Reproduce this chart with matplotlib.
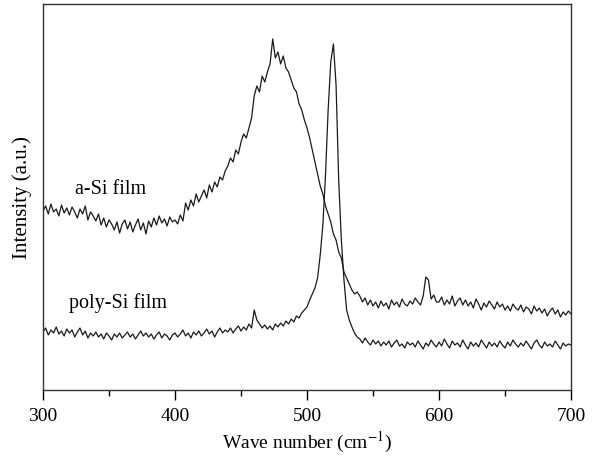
import numpy as np
import matplotlib
matplotlib.use("Agg")
import matplotlib.pyplot as plt
from matplotlib.ticker import MultipleLocator

# ── Données (pas de 2 cm^-1, intensité en u.a.) ──
wave = np.arange(300, 702, 2)

a_si = [
    179, 184, 176, 186, 178, 181, 174, 185, 177, 182,
    175, 183, 178, 172, 181, 176, 184, 170, 178, 174,
    169, 176, 165, 172, 163, 170, 166, 160, 168, 157,
    166, 170, 161, 168, 158, 165, 171, 160, 167, 156,
    169, 163, 172, 165, 174, 167, 171, 164, 173, 168,
    170, 166, 175, 169, 187, 180, 190, 184, 196, 188,
    194, 200, 192, 205, 198, 208, 203, 213, 210, 219,
    224, 232, 228, 240, 236, 248, 256, 252, 262, 272,
    294, 304, 298, 314, 308, 318, 326, 351, 332, 338,
    326, 334, 322, 318, 310, 302, 298, 286, 280, 270,
    262, 252, 240, 228, 216, 204, 196, 184, 176, 168,
    156, 150, 138, 132, 118, 112, 106, 100, 96, 98,
    94, 88, 92, 85, 90, 84, 88, 82, 89, 84,
    87, 81, 90, 85, 88, 83, 91, 86, 84, 89,
    86, 92, 88, 85, 94, 113, 110, 91, 95, 88,
    88, 93, 85, 90, 86, 94, 84, 89, 92, 85,
    90, 84, 88, 82, 91, 86, 80, 87, 83, 89,
    85, 81, 88, 83, 86, 80, 84, 79, 86, 82,
    80, 85, 78, 83, 81, 76, 84, 79, 82, 77,
    81, 74, 79, 82, 76, 80, 73, 78, 75, 79,
    76,
]

poly_si = [
    58, 62, 55, 60, 57, 63, 56, 59, 54, 61,
    57, 60, 53, 58, 62, 55, 59, 52, 57, 54,
    58, 53, 56, 51, 57, 54, 50, 56, 53, 57,
    52, 55, 58, 53, 56, 51, 55, 59, 54, 57,
    53, 56, 51, 55, 58, 52, 56, 54, 50, 55,
    57, 53, 56, 60, 54, 57, 52, 58, 55, 59,
    54, 57, 61, 56, 59, 53, 58, 62, 57, 60,
    58, 62, 57, 61, 64, 59, 63, 60, 66, 62,
    80, 70, 66, 62, 65, 61, 64, 60, 66, 63,
    67, 64, 69, 66, 71, 68, 74, 72, 77, 80,
    83, 90, 96, 102, 112, 135, 165, 215, 280, 328,
    346, 305, 210, 150, 110, 80, 70, 63, 57, 53,
    51, 47, 52, 48, 45, 50, 46, 49, 44, 48,
    45, 49, 43, 47, 50, 44, 46, 42, 48, 45,
    47, 43, 49, 45, 41, 47, 44, 50, 46, 43,
    48, 44, 51, 46, 42, 49, 45, 47, 43, 50,
    45, 41, 48, 44, 47, 43, 50, 46, 42, 48,
    44, 47, 43, 49, 45, 42, 48, 44, 50, 46,
    43, 47, 44, 49, 45, 41, 47, 50, 45, 42,
    48, 44, 46, 43, 49, 45, 41, 47, 44, 46,
    45,
]

plt.rcParams["font.family"] = ["Liberation Serif", "DejaVu Serif"]
plt.rcParams["mathtext.fontset"] = "stix"

fig = plt.figure(figsize=(6.0, 4.64), dpi=100)
ax = fig.add_axes([0.0717, 0.1573, 0.88, 0.832])

ax.plot(wave, a_si, color="#1a1a1a", linewidth=0.9)
ax.plot(wave, poly_si, color="#1a1a1a", linewidth=0.9)

ax.text(324, 201, "a-Si film", fontsize=14.5, va="center", ha="left")
ax.text(320, 88, "poly-Si film", fontsize=14.5, va="center", ha="left")

ax.set_xlim(300, 700)
ax.set_ylim(0, 386)
ax.xaxis.set_major_locator(MultipleLocator(100))
ax.xaxis.set_minor_locator(MultipleLocator(50))
ax.tick_params(axis="x", which="major", direction="out", length=7, width=1,
               labelsize=14, pad=5)
ax.tick_params(axis="x", which="minor", direction="out", length=4, width=1)
ax.set_yticks([])

for s in ax.spines.values():
    s.set_color("#333333")
    s.set_linewidth(1.0)

ax.set_xlabel(r"Wave number (cm$^{-1}$)", fontsize=14, labelpad=4)
ax.set_ylabel("Intensity (a.u.)", fontsize=15, labelpad=8)

fig.savefig("out.png", dpi=100)
